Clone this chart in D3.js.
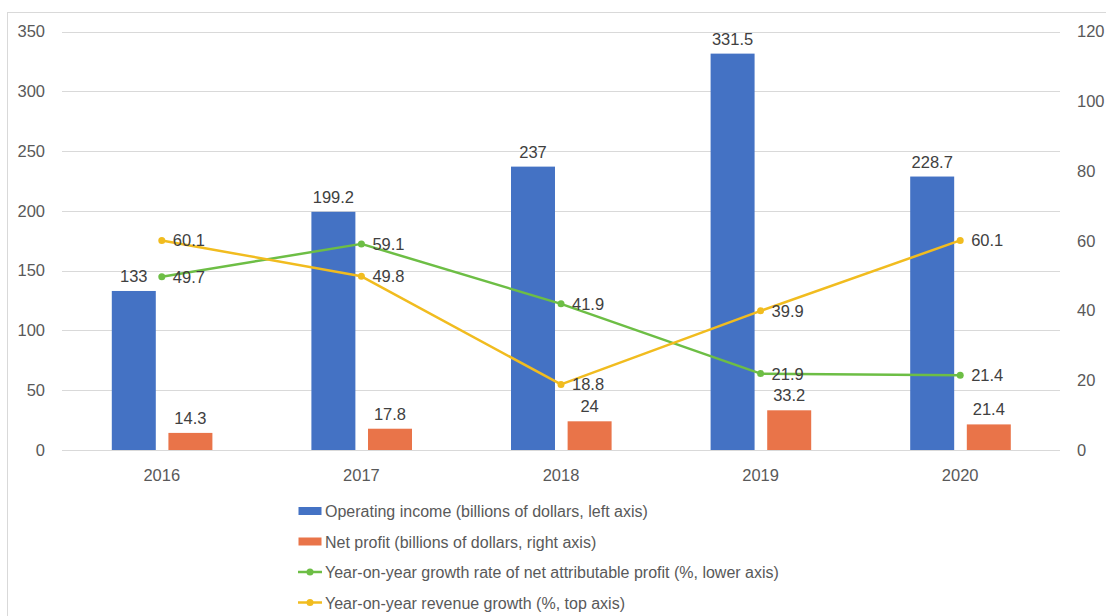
<!DOCTYPE html>
<html>
<head>
<meta charset="utf-8">
<script src="https://cdn.jsdelivr.net/npm/d3@7"></script>
<style>
  html, body { margin: 0; padding: 0; background: #ffffff; }
  svg { display: block; font-family: "Liberation Sans", Arial, sans-serif; }
</style>
</head>
<body>
<svg id="chart" width="1106" height="616"></svg>
<script>
// Yearly figures
const years = ["2016", "2017", "2018", "2019", "2020"];
const operatingIncome = [133, 199.2, 237, 331.5, 228.7];   // billions of dollars
const netProfit = [14.3, 17.8, 24, 33.2, 21.4];            // billions of dollars
const netProfitGrowth = [49.7, 59.1, 41.9, 21.9, 21.4];    // %
const revenueGrowth = [60.1, 49.8, 18.8, 39.9, 60.1];      // %

const leftTicks = [0, 50, 100, 150, 200, 250, 300, 350];
const rightTicks = [0, 20, 40, 60, 80, 100, 120];

const legendLabels = [
  "Operating income (billions of dollars, left axis)",
  "Net profit (billions of dollars, right axis)",
  "Year-on-year growth rate of net attributable profit (%, lower axis)",
  "Year-on-year revenue growth (%, top axis)"
];

const colors = {
  income: "#4472C4",
  profit: "#E97449",
  growth: "#6DBE45",
  revenue: "#F1BC1F",
  grid: "#D9D9D9",
  axisText: "#595959",
  label: "#404040"
};

const numFont = 16.5;
const svg = d3.select("#chart");

// outer frame
svg.append("rect")
  .attr("x", 7.5).attr("y", 12.5)
  .attr("width", 1120).attr("height", 620)
  .attr("fill", "none")
  .attr("stroke", "#D9D9D9");

const plot = { left: 62, right: 1060, top: 31.5, bottom: 450 };

const x = d3.scaleBand()
  .domain(years)
  .range([plot.left, plot.right])
  .paddingInner(0).paddingOuter(0);

const yLeft = d3.scaleLinear().domain([0, 350]).range([plot.bottom, plot.top]);
const yRight = d3.scaleLinear().domain([0, 120]).range([plot.bottom, plot.top]);

// bars within each year group
const barGroup = d3.scaleBand()
  .domain(["income", "profit"])
  .range([-50, 50.6])
  .paddingInner(0.223);

// gridlines
svg.append("g")
  .selectAll("line")
  .data(leftTicks)
  .join("line")
  .attr("x1", plot.left).attr("x2", plot.right)
  .attr("y1", d => Math.round(yLeft(d)) + 0.5)
  .attr("y2", d => Math.round(yLeft(d)) + 0.5)
  .attr("stroke", colors.grid)
  .attr("stroke-width", 1);

function styleAxis(g) {
  g.select(".domain").remove();
  g.selectAll("text")
    .attr("fill", colors.axisText)
    .attr("font-size", numFont)
    .attr("font-family", "Liberation Sans, Arial, sans-serif");
}

// left axis
svg.append("g")
  .attr("transform", `translate(${plot.left},0)`)
  .call(d3.axisLeft(yLeft).tickValues(leftTicks).tickSize(0).tickPadding(17))
  .call(styleAxis);

// right axis
svg.append("g")
  .attr("transform", `translate(${plot.right},0)`)
  .call(d3.axisRight(yRight).tickValues(rightTicks).tickSize(0).tickPadding(17))
  .call(styleAxis);

// category axis
svg.append("g")
  .attr("transform", `translate(0,${plot.bottom})`)
  .call(d3.axisBottom(x).tickSize(0).tickPadding(19))
  .call(styleAxis);

const center = d => x(d) + x.bandwidth() / 2;

// bars
const barData = [
  { key: "income", values: operatingIncome, color: colors.income },
  { key: "profit", values: netProfit, color: colors.profit }
];

barData.forEach(series => {
  const pts = years.map((yr, i) => ({ yr, v: series.values[i] }));
  const g = svg.append("g");
  g.selectAll("rect")
    .data(pts)
    .join("rect")
    .attr("x", d => center(d.yr) + barGroup(series.key))
    .attr("width", barGroup.bandwidth())
    .attr("y", d => yLeft(d.v))
    .attr("height", d => yLeft(0) - yLeft(d.v))
    .attr("fill", series.color);
  g.selectAll("text")
    .data(pts)
    .join("text")
    .attr("x", d => center(d.yr) + barGroup(series.key) + barGroup.bandwidth() / 2)
    .attr("y", d => yLeft(d.v) - 9)
    .attr("text-anchor", "middle")
    .attr("font-size", numFont)
    .attr("fill", colors.label)
    .text(d => d.v);
});

// growth lines
const lineData = [
  { key: "growth", values: netProfitGrowth, color: colors.growth },
  { key: "revenue", values: revenueGrowth, color: colors.revenue }
];

const line = d3.line()
  .x(d => center(d.yr))
  .y(d => yRight(d.v));

lineData.forEach(series => {
  const pts = years.map((yr, i) => ({ yr, v: series.values[i] }));
  const g = svg.append("g");
  g.append("path")
    .datum(pts)
    .attr("d", line)
    .attr("fill", "none")
    .attr("stroke", series.color)
    .attr("stroke-width", 2.5)
    .attr("stroke-linejoin", "round");
  g.selectAll("circle")
    .data(pts)
    .join("circle")
    .attr("cx", d => center(d.yr))
    .attr("cy", d => yRight(d.v))
    .attr("r", 3.5)
    .attr("fill", series.color);
  g.selectAll("text")
    .data(pts)
    .join("text")
    .attr("x", d => center(d.yr) + 11)
    .attr("y", d => yRight(d.v) + 6)
    .attr("font-size", numFont)
    .attr("fill", colors.label)
    .text(d => d.v);
});

// legend
const legend = svg.append("g");
const legendKinds = [
  { type: "rect", color: colors.income },
  { type: "rect", color: colors.profit },
  { type: "line", color: colors.growth },
  { type: "line", color: colors.revenue }
];
const legendY = d3.scalePoint().domain(d3.range(4)).range([511, 602.5]);

legendKinds.forEach((k, i) => {
  const cy = legendY(i);
  if (k.type === "rect") {
    legend.append("rect")
      .attr("x", 298.5).attr("y", cy - 4)
      .attr("width", 23).attr("height", 8)
      .attr("fill", k.color);
  } else {
    legend.append("line")
      .attr("x1", 298).attr("x2", 322)
      .attr("y1", cy).attr("y2", cy)
      .attr("stroke", k.color).attr("stroke-width", 2.5);
    legend.append("circle")
      .attr("cx", 310).attr("cy", cy).attr("r", 3.5)
      .attr("fill", k.color);
  }
  legend.append("text")
    .attr("x", 325)
    .attr("y", cy + 6)
    .attr("font-size", 16)
    .attr("fill", colors.axisText)
    .text(legendLabels[i]);
});
</script>
</body>
</html>
